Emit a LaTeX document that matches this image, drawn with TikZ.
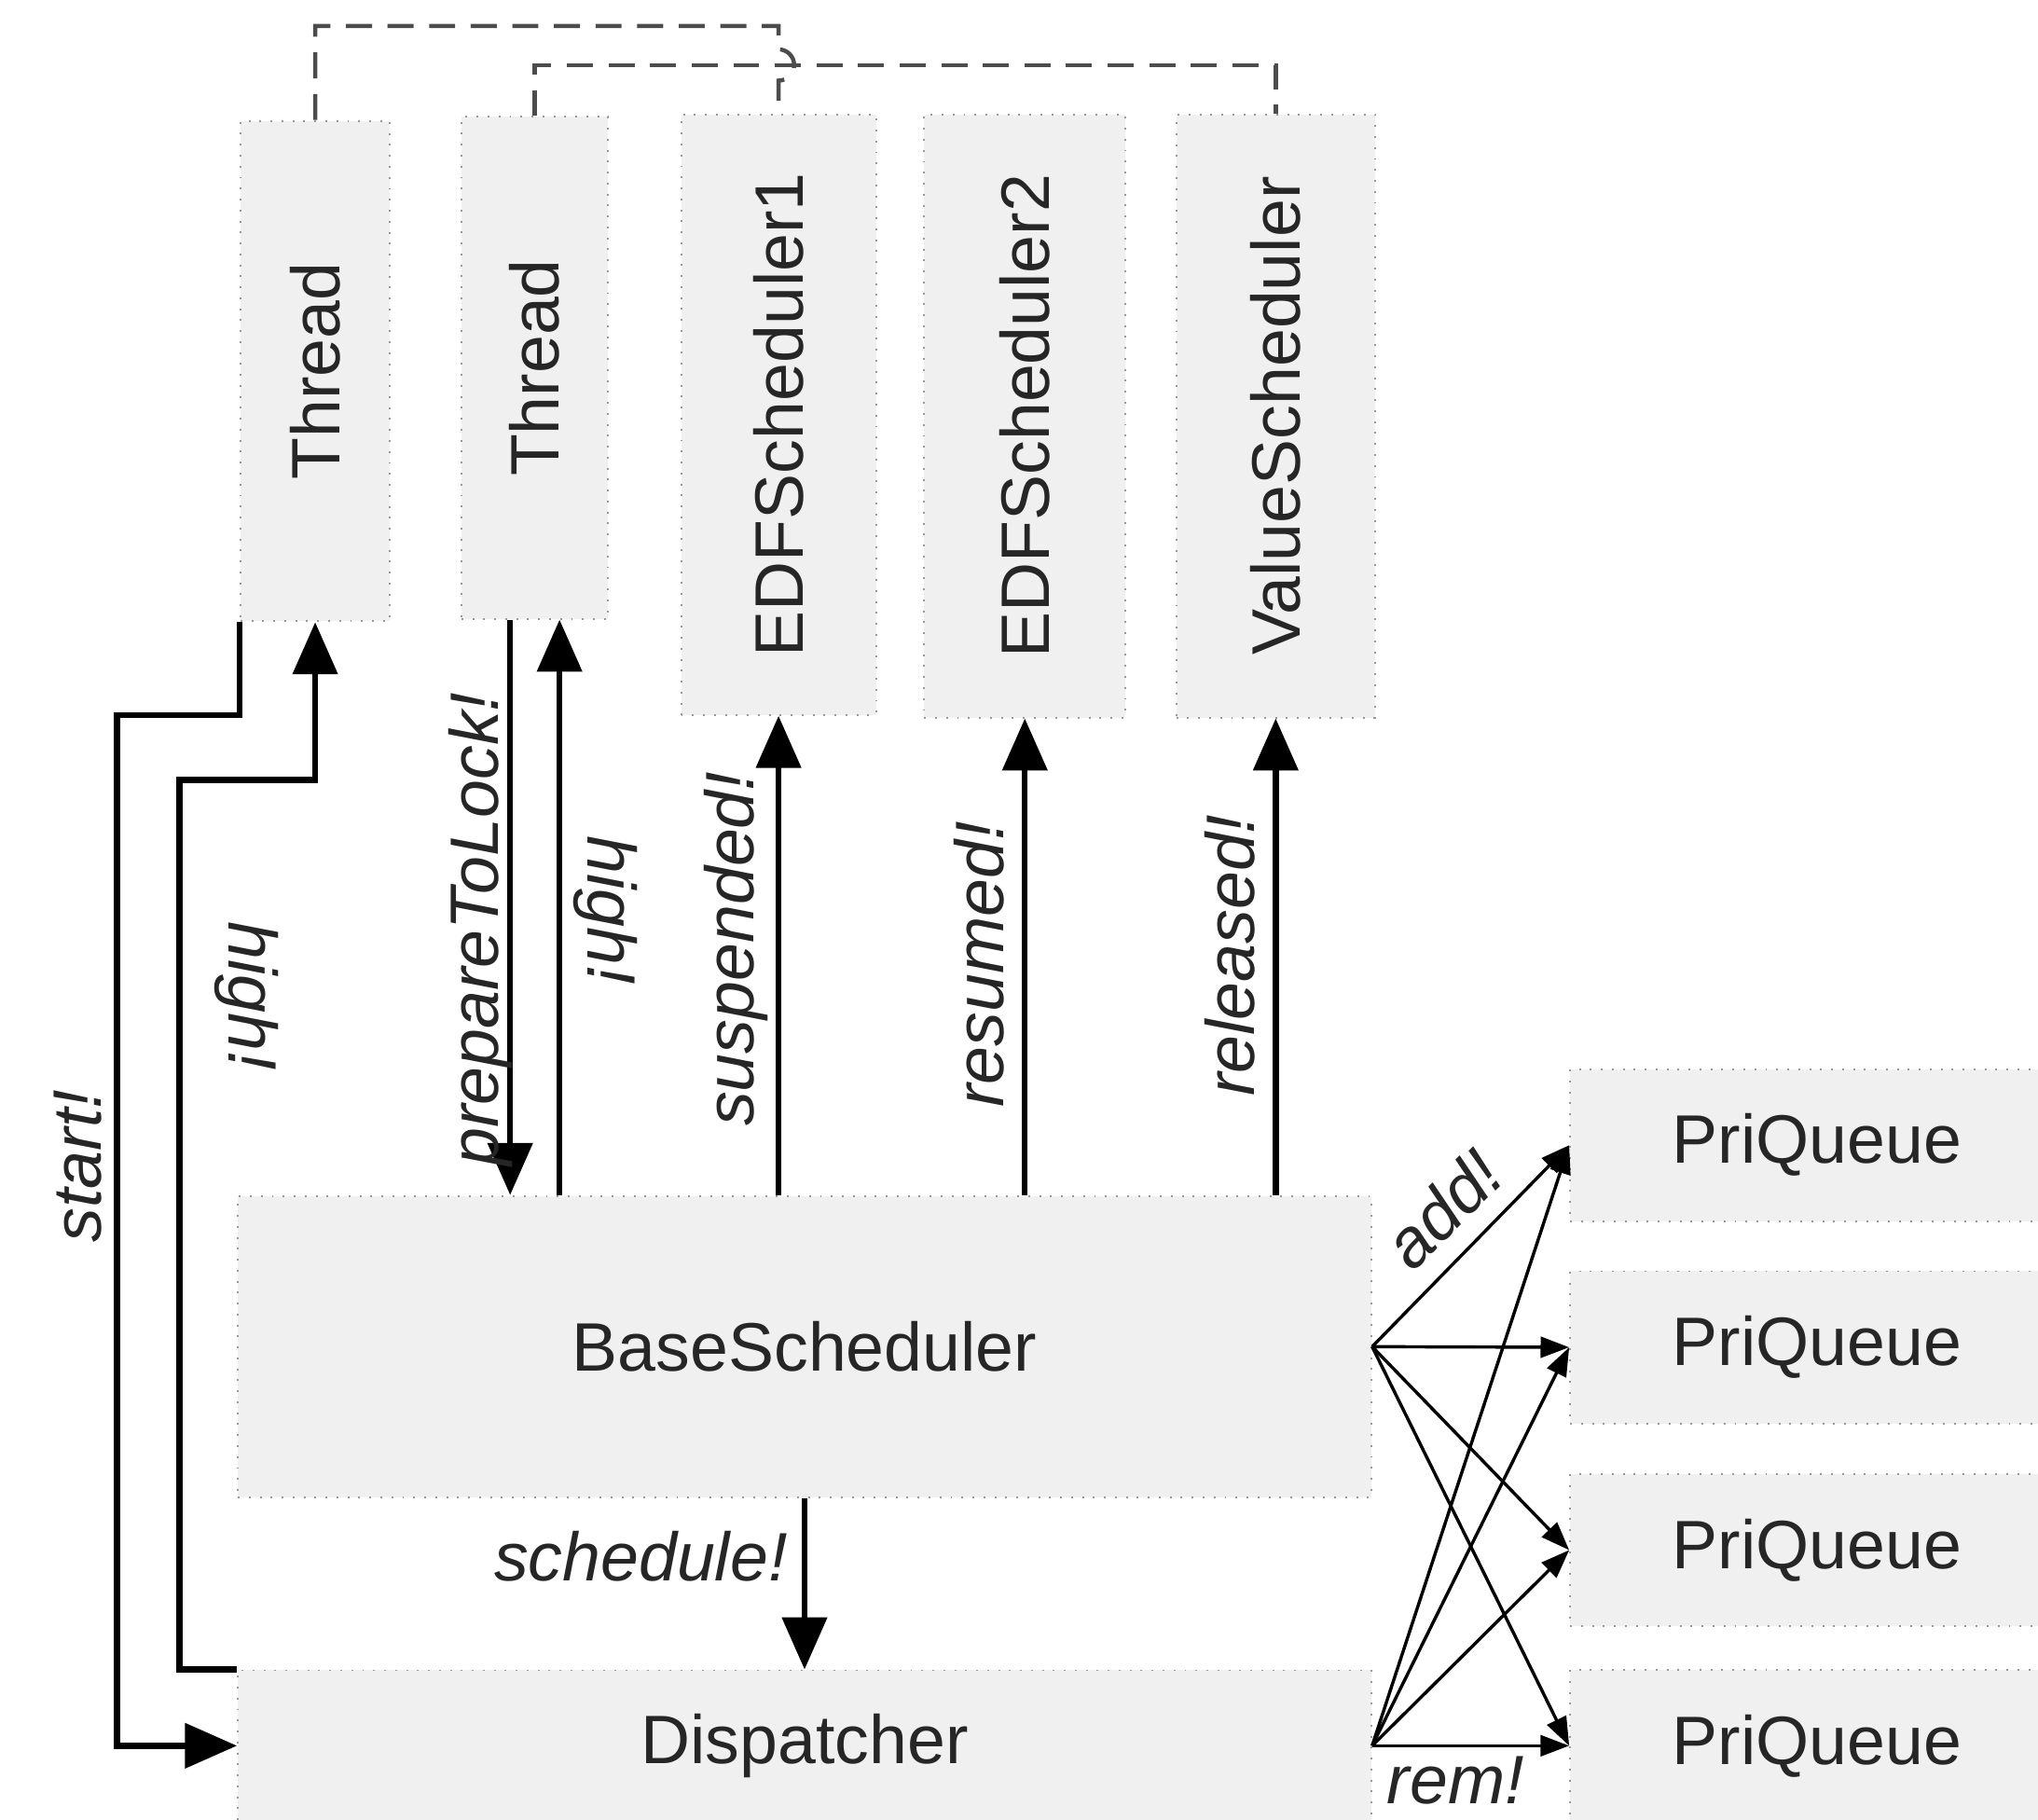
\documentclass[tikz,border=0pt]{standalone}
\usepackage{fontspec}
\setmainfont{Liberation Sans}
\usetikzlibrary{arrows.meta}

\begin{document}
\begin{tikzpicture}[
  box/.style={draw=black!40, dotted, fill=black!6, inner sep=0pt, text=black!85, font=\fontsize{15}{18}\selectfont},
  sig/.style={line width=1.3pt, -{Triangle[length=0.40cm,width=0.34cm]}},
  thinsig/.style={line width=0.7pt, -{Triangle[length=0.22cm,width=0.16cm]}},
  link/.style={line width=0.9pt, black!70, dash pattern=on 0.2cm off 0.12cm},
  lbl/.style={inner sep=0pt, text=black!85, font=\fontsize{15}{18}\selectfont\itshape}]
\useasboundingbox (0,0) rectangle (15.68,-14.00);
\clip (0,0) rectangle (15.68,-14.00);
\node[box, minimum width=1.15cm, minimum height=3.85cm] (thr1) at (2.425,-2.855) {\rotatebox{90}{Thread}};
\node[box, minimum width=1.13cm, minimum height=3.86cm] (thr2) at (4.115,-2.83) {\rotatebox{90}{Thread}};
\node[box, minimum width=1.50cm, minimum height=4.62cm] (edf1) at (5.99,-3.19) {\rotatebox{90}{EDFScheduler1}};
\node[box, minimum width=1.55cm, minimum height=4.64cm] (edf2) at (7.885,-3.20) {\rotatebox{90}{EDFScheduler2}};
\node[box, minimum width=1.53cm, minimum height=4.64cm] (vsch) at (9.815,-3.20) {\rotatebox{90}{ValueScheduler}};
\node[box, minimum width=8.72cm, minimum height=2.32cm] (base) at (6.19,-10.36) {BaseScheduler};
\node[box, minimum width=8.72cm, minimum height=1.16cm] (disp) at (6.19,-13.43) {Dispatcher};
\node[box, minimum width=3.80cm, minimum height=1.17cm] (pq1) at (13.98,-8.81) {PriQueue};
\node[box, minimum width=3.80cm, minimum height=1.17cm] (pq2) at (13.98,-10.365) {PriQueue};
\node[box, minimum width=3.80cm, minimum height=1.17cm] (pq3) at (13.98,-11.925) {PriQueue};
\node[box, minimum width=3.80cm, minimum height=1.17cm] (pq4) at (13.98,-13.43) {PriQueue};

\draw[link] (thr1.north) |- (5.99,-0.20) -- (5.99,-0.38) arc (90:-90:0.12) -- (edf1.north);
\draw[link] (thr2.north) |- (9.815,-0.50) -- (vsch.north);

\coordinate (plock) at ([xshift=-0.19cm]thr2.south);
\coordinate (phigh) at ([xshift=0.19cm]thr2.south);
\draw[sig] (thr1.south west) |- (0.90,-5.50) |- (disp.west);
\draw[sig] (disp.north west) -| (1.38,-6.00) -| (thr1.south);
\draw[sig] (plock) -- (plock |- base.north);
\draw[sig] (phigh |- base.north) -- (phigh);
\draw[sig] (edf1.south |- base.north) -- (edf1.south);
\draw[sig] (edf2.south |- base.north) -- (edf2.south);
\draw[sig] (vsch.south |- base.north) -- (vsch.south);
\draw[sig] (base.south) -- (disp.north);
\foreach \q in {pq1,pq2,pq3,pq4} {
  \draw[thinsig] (base.east) -- (\q.west);
  \draw[thinsig] (disp.east) -- (\q.west);
}

\node[lbl, rotate=90] (lstart) at (0.60,-8.97) {start!};
\node[lbl, rotate=-90] (lhigha) at (1.90,-7.66) {high!};
\node[lbl, rotate=90] (lprep) at (3.70,-7.15) {prepareToLock!};
\node[lbl, rotate=-90] (lhighb) at (4.66,-7.00) {high!};
\node[lbl, rotate=90] (lsusp) at (5.66,-7.30) {suspended!};
\node[lbl, rotate=90] (lres) at (7.53,-7.42) {resumed!};
\node[lbl, rotate=90] (lrel) at (9.46,-7.35) {released!};
\node[lbl] (lsched) at (4.93,-11.97) {schedule!};
\node[lbl, rotate=45] (ladd) at (11.10,-9.30) {add!};
\node[lbl] (lrem) at (11.20,-13.70) {rem!};
\end{tikzpicture}
\end{document}
